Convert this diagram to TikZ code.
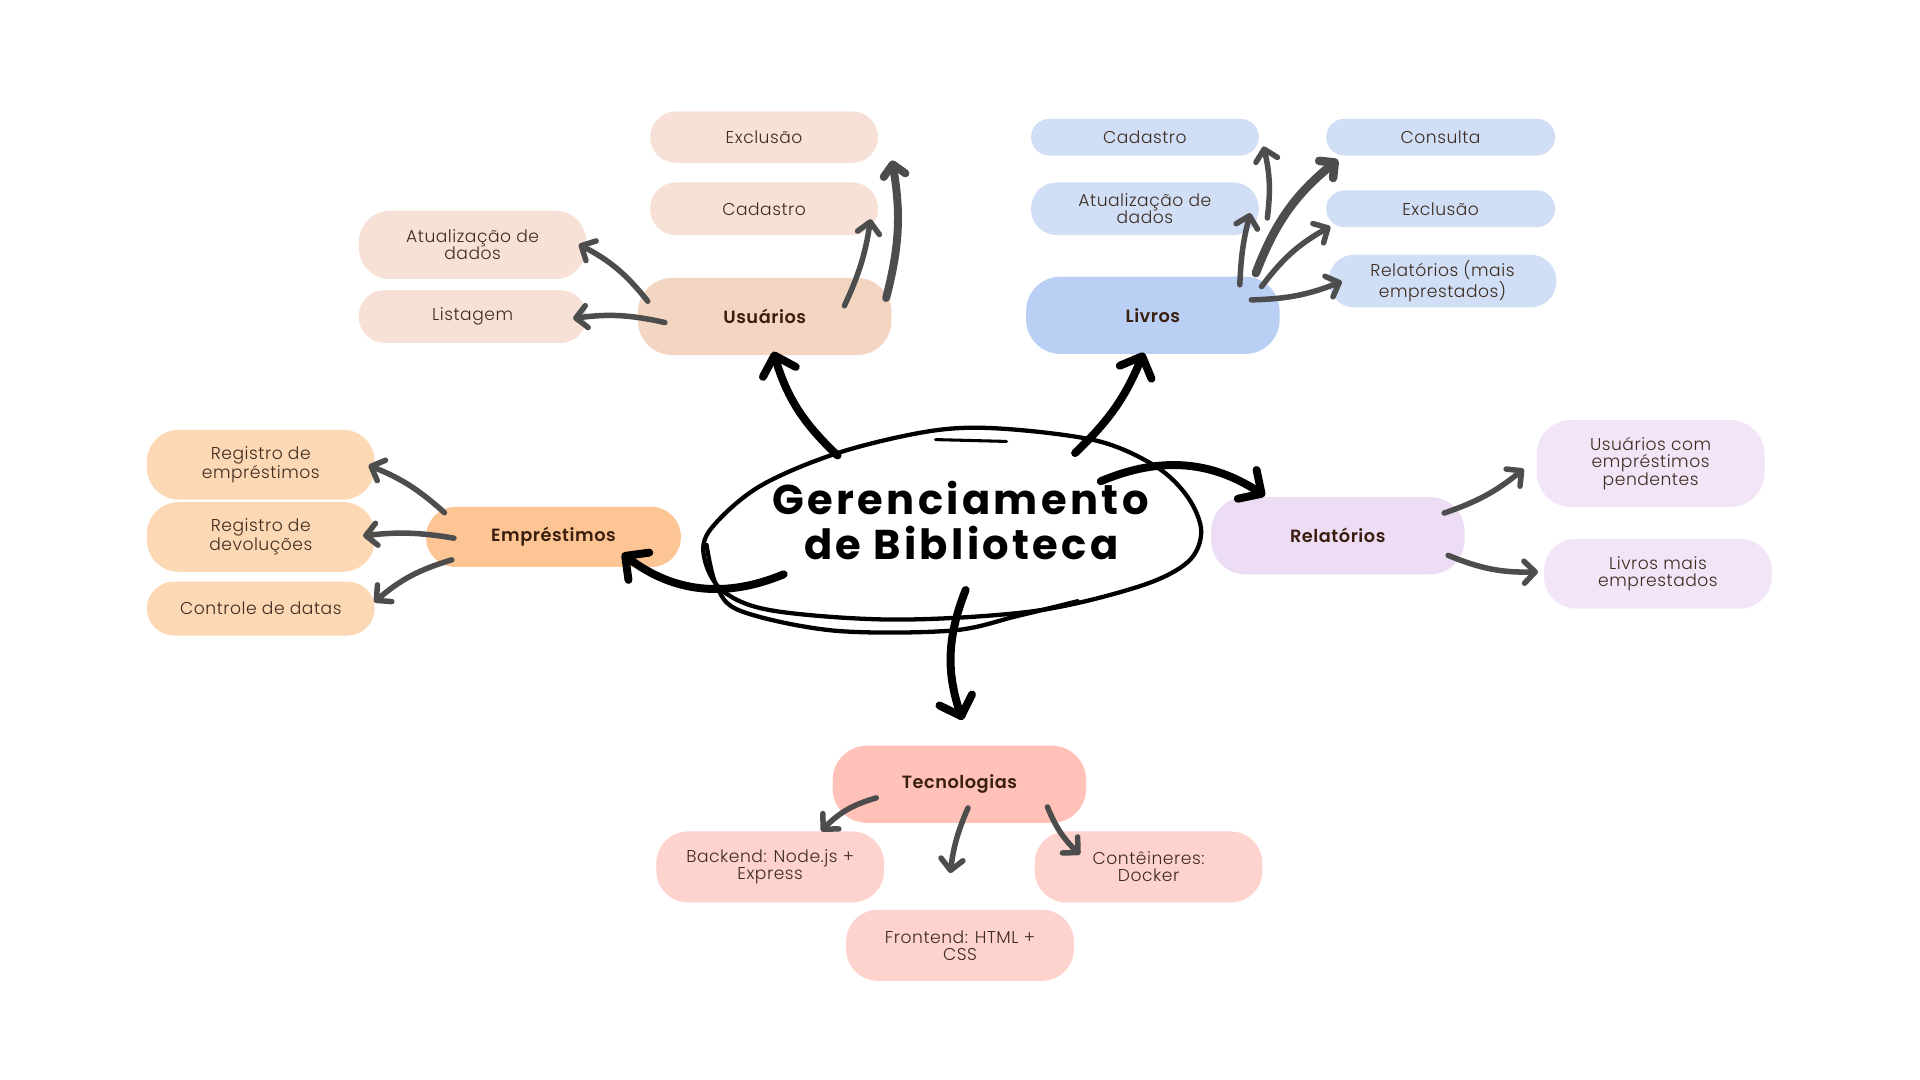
\documentclass[tikz,border=0pt]{standalone}
\usepackage{fontspec}
\usetikzlibrary{arrows.meta,calc}
\setmainfont{Poppins}
\IfFontExistsTF{Poppins Light}{\newfontfamily\childfont{Poppins Light}[LetterSpace=3]}{\newfontfamily\childfont{Poppins}[LetterSpace=3]}
\IfFontExistsTF{Poppins SemiBold}{\newfontfamily\labfont{Poppins SemiBold}[LetterSpace=3]}{\newfontfamily\labfontX{Poppins}[LetterSpace=3]\def\labfont{\labfontX\bfseries}}
\IfFontExistsTF{Poppins Bold}{\newfontfamily\titlefont{Poppins Bold}[LetterSpace=8]}{\newfontfamily\titlefontX{Poppins}[LetterSpace=8]\def\titlefont{\titlefontX\bfseries}}
\definecolor{uC}{HTML}{F7E1D6}
\definecolor{uM}{HTML}{F3D6C2}
\definecolor{lC}{HTML}{D0DEF6}
\definecolor{lM}{HTML}{B9CFF3}
\definecolor{eC}{HTML}{FDD8B5}
\definecolor{eM}{HTML}{FDC594}
\definecolor{rC}{HTML}{F1E5F7}
\definecolor{rM}{HTML}{ECDDF5}
\definecolor{tC}{HTML}{FFD3CD}
\definecolor{tM}{HTML}{FFC1B8}
\definecolor{txt}{HTML}{3D2B1F}
\definecolor{labtxt}{HTML}{3A1F10}
\definecolor{agrey}{HTML}{4D4D4D}
\begin{document}
\begin{tikzpicture}[x=1pt,y=-1pt,
  cbox/.style={rectangle, minimum width=186, inner sep=0pt, align=center, text=txt,
    font=\childfont\fontsize{14}{14}\selectfont},
  mbox/.style={rectangle, minimum width=207, minimum height=63, rounded corners=28,
    inner sep=0pt, text=labtxt, font=\labfont\fontsize{14.5}{15}\selectfont},
  garr/.style={draw=agrey, line width=4.5pt, line cap=round,
    -{Straight Barb[round,length=9pt,width=18pt]}},
  barr/.style={draw=black, line width=6.5pt, line cap=round,
    -{Straight Barb[round,length=14pt,width=28pt]}},
  ttl/.style={font=\titlefont\fontsize{34}{34}\selectfont, anchor=base, inner sep=0pt, text=black},
  ring/.style={draw=black, line width=3.5pt, line cap=round, line join=round}
]
\fill[white] (0,0) rectangle (1568,882);
\useasboundingbox (0,0) rectangle (1568,882);

% ---------- Usuarios ----------
\node[cbox, fill=uC, minimum height=42, rounded corners=21] (uexc) at (624,112) {Exclusão};
\node[cbox, fill=uC, minimum height=43, rounded corners=21] (ucad) at (624,170.5) {Cadastro};
\node[cbox, fill=uC, minimum height=56, rounded corners=26] (uatu) at (386,200) {Atualização de\\dados};
\node[cbox, fill=uC, minimum height=43, rounded corners=21] (ulis) at (386,258.5) {Listagem};
\node[mbox, fill=uM] (usu) at (624.5,258.5) {Usuários};

% ---------- Livros ----------
\node[cbox, fill=lC, minimum height=30, rounded corners=15] (lcad) at (935,112) {Cadastro};
\node[cbox, fill=lC, minimum height=43, rounded corners=21] (latu) at (935,170.5) {Atualização de\\dados};
\node[mbox, fill=lM] (liv) at (941.5,257.5) {Livros};
\node[cbox, fill=lC, minimum width=187, minimum height=30, rounded corners=15] (lcon) at (1176.5,112) {Consulta};
\node[cbox, fill=lC, minimum width=187, minimum height=30, rounded corners=15] (lexc) at (1176.5,170.5) {Exclusão};
\node[cbox, fill=lC, minimum height=43, rounded corners=21] (lrel) at (1178,229.5) {Relatórios (mais\\emprestados)};

% ---------- Emprestimos ----------
\node[cbox, fill=eC, minimum height=57, rounded corners=26] (ereg) at (213,379.5) {Registro de\\empréstimos};
\node[cbox, fill=eC, minimum height=57, rounded corners=26] (edev) at (213,438.5) {Registro de\\devoluções};
\node[cbox, fill=eC, minimum height=44, rounded corners=22] (ectl) at (213,497) {Controle de datas};
\node[mbox, fill=eM, minimum width=208, minimum height=49, rounded corners=24] (emp) at (452,438.5) {Empréstimos};

% ---------- Relatorios ----------
\node[mbox, fill=rM] (rel) at (1092.5,437.5) {Relatórios};
\node[cbox, fill=rC, minimum height=71, rounded corners=28] (rusu) at (1348,378.5) {Usuários com\\empréstimos\\pendentes};
\node[cbox, fill=rC, minimum height=57, rounded corners=26] (rliv) at (1354,468.5) {Livros mais\\emprestados};

% ---------- Tecnologias ----------
\node[mbox, fill=tM] (tec) at (783.5,640.5) {Tecnologias};
\node[cbox, fill=tC, minimum height=58, rounded corners=26] (tback) at (629,708) {Backend: Node.js +\\Express};
\node[cbox, fill=tC, minimum height=58, rounded corners=26] (tcont) at (938,708) {Contêineres:\\Docker};
\node[cbox, fill=tC, minimum height=58, rounded corners=26] (tfront) at (784,772) {Frontend: HTML +\\CSS};

% ---------- central scribble ----------
\draw[ring] plot[smooth cycle, tension=0.55] coordinates {(817,350) (896,360) (944,381) (970,406) (981,434) (970,459) (930,479) (845,499) (732,506) (633,499) (592,484) (576,459) (579,434) (619,398) (684,370) (760,352)};
\draw[ring] plot[smooth, tension=0.55] coordinates {(577,445) (585,478) (605,499) (681,515) (777,515) (831,503) (880,491)};
\draw[ring, line width=2.5pt] (764,359) -- (822,360.5);
\node[ttl] (t1) at (784.5,420) {Gerenciamento};
\node[ttl] (t2) at (785,457) {de Biblioteca};
\coordinate (c) at (784,430);

% ---------- grey arrows ----------
\draw[garr] ($(usu)+(-95.5,-12.5)$) to[bend right=12] ($(uatu)+(86.7,-0.4)$);
\draw[garr] ($(usu)+(-81.5,4.9)$) to[bend right=10] ($(ulis)+(82,1.5)$);
\draw[garr] ($(usu)+(65.1,-8.8)$) to[bend right=8] ($(ucad)+(87,8.5)$);
\draw[garr, line width=6.5pt] ($(usu)+(99.2,-15.1)$) to[bend right=12] ($(uexc)+(104.5,19)$);
\draw[garr] ($(liv)+(93.5,-79.5)$) to[bend right=10] ($(lcad)+(96.9,7.6)$);
\draw[garr] ($(liv)+(71,-24.9)$) to[bend left=6] ($(latu)+(86,3.5)$);
\draw[garr, line width=7pt] ($(liv)+(84.1,-34.5)$) to[bend left=15] ($(lcon)+(-83.8,18.5)$);
\draw[garr] ($(liv)+(88.8,-23.5)$) to[bend left=12] ($(lexc)+(-90.1,14.5)$);
\draw[garr] ($(liv)+(80.4,-12.6)$) to[bend right=10] ($(lrel)+(-82.2,0.4)$);
\draw[garr] ($(emp)+(-89,-19.8)$) to[bend right=10] ($(ereg)+(88,0.5)$);
\draw[garr] ($(emp)+(-81.3,1)$) to[bend right=8] ($(edev)+(83.5,-0.9)$);
\draw[garr] ($(emp)+(-83,18.7)$) to[bend right=12] ($(ectl)+(92.6,-5.2)$);
\draw[garr] ($(rel)+(86.9,-18.5)$) to[bend right=10] ($(rusu)+(-103.6,4.5)$);
\draw[garr] ($(rel)+(90.1,16)$) to[bend right=12] ($(rliv)+(-98,-1.5)$);
\draw[garr] ($(tec)+(-67.9,11.1)$) to[bend right=15] ($(tback)+(41.7,-29.2)$);
\draw[garr] ($(tec)+(7,19.3)$) to[bend right=8] ($(tfront)+(-8,-59)$);
\draw[garr] ($(tec)+(71.9,18.5)$) to[bend right=12] ($(tcont)+(-56,-10.2)$);

% ---------- black arrows ----------
\draw[barr] ($(c)+(-100,-58)$) to[bend left=15] ($(usu)+(7,28.7)$);
\draw[barr] ($(c)+(94,-60)$) to[bend right=12] ($(liv)+(-7.5,30.5)$);
\draw[barr] ($(c)+(115,-37)$) to[bend left=28] ($(rel)+(-59.5,-32.5)$);
\draw[barr] ($(c)+(-144,39)$) to[bend left=30] ($(emp)+(56,13.5)$);
\draw[barr] ($(c)+(4.6,51.8)$) to[bend right=20] ($(tec)+(2.5,-52.5)$);
\end{tikzpicture}
\end{document}
